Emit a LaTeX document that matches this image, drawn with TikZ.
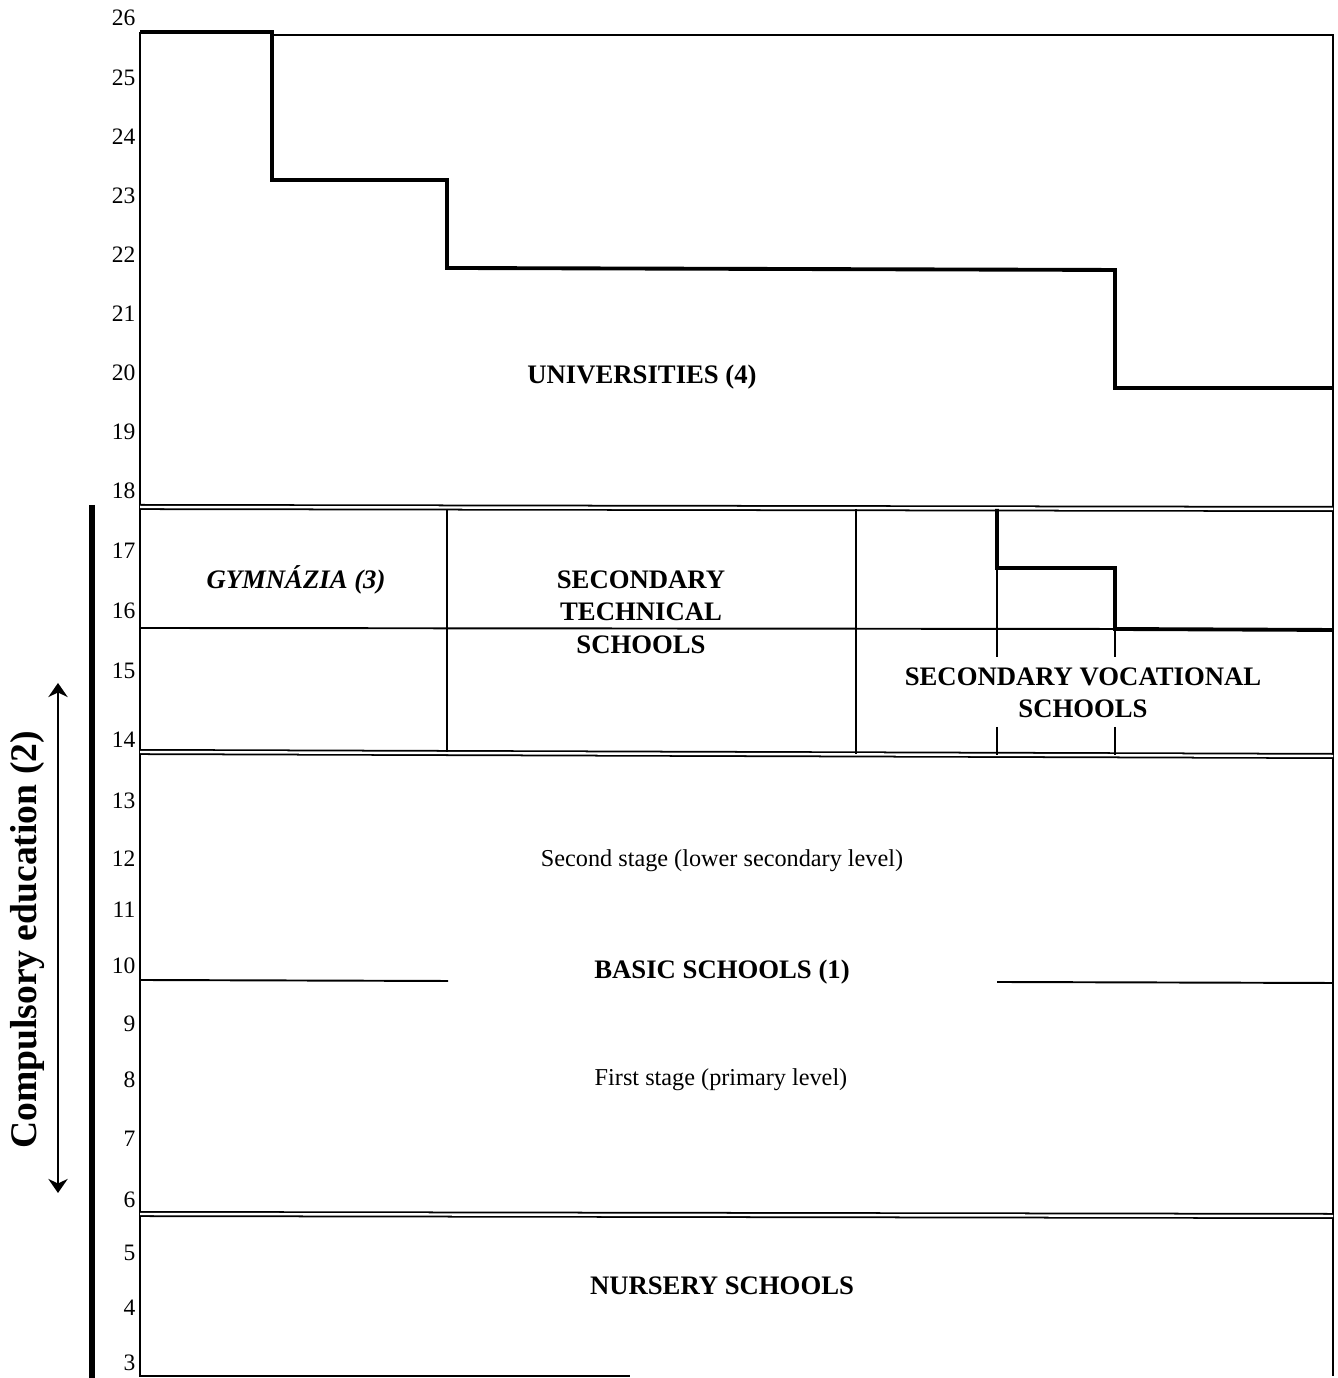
\documentclass[tikz,border=0pt]{standalone}
\usepackage{fontspec}
\setmainfont{Liberation Serif}
\usetikzlibrary{arrows.meta}
\tikzset{
  sch/.style={font=\fontsize{7.6}{9.2}\selectfont\bfseries,align=center,inner sep=0pt},
  stage/.style={font=\fontsize{6.9}{8}\selectfont,inner sep=0pt},
  age/.style={font=\fontsize{6.7}{8}\selectfont,anchor=east,inner sep=0pt},
  bar/.style={line width=1.1pt},
  thin/.style={line width=0.55pt},
  dbl/.style={double,double distance=0.7pt,line width=0.5pt}
}
\begin{document}
\begin{tikzpicture}[>={Stealth[length=4pt,width=5.5pt]}]
\useasboundingbox (0,0) rectangle (13.37,13.78);
% age scale
\foreach \a/\y in {26/13.60,25/13.00,24/12.41,23/11.82,22/11.23,21/10.64,
  20/10.05,19/9.46,18/8.87,17/8.27,16/7.67,15/7.07,14/6.38,13/5.77,
  12/5.19,11/4.68,10/4.12,9/3.54,8/2.98,7/2.39,6/1.78,5/1.25,4/0.70,3/0.15}
  \node[age] (age\a) at (1.36,\y) {\a};
% frame
\draw[thin] (1.40,13.46) -- (1.40,0.02) -- (6.30,0.02);
\draw[thin] (2.72,13.43) -- (13.33,13.43) -- (13.33,0.02);
\draw[bar] (1.40,13.46) -- (2.72,13.46) -- (2.72,11.98) -- (4.47,11.98)
  -- (4.47,11.10) -- (11.15,11.08) -- (11.15,9.90) -- (13.33,9.90);
% level boundaries
\draw[dbl] (1.40,8.71) -- (13.33,8.69);
\draw[dbl] (1.40,6.26) -- (13.33,6.22);
\draw[dbl] (1.40,1.64) -- (13.33,1.62);
% secondary schools
\draw[thin] (1.40,7.50) -- (11.15,7.49);
\draw[thin] (4.47,8.69) -- (4.47,6.26);
\draw[thin] (8.56,8.69) -- (8.56,6.24);
\draw[bar] (9.97,8.69) -- (9.97,8.10) -- (11.15,8.10) -- (11.15,7.49)
  -- (13.33,7.48);
\draw[thin] (9.97,8.10) -- (9.97,7.21) (9.97,6.51) -- (9.97,6.23);
\draw[thin] (11.15,7.49) -- (11.15,7.21) (11.15,6.51) -- (11.15,6.23);
% basic school stages
\draw[thin] (1.40,3.98) -- (4.48,3.97);
\draw[thin] (9.97,3.96) -- (13.33,3.95);
% compulsory education
\draw[line width=1.7pt] (0.92,8.73) -- (0.92,0);
\draw[<->,thin] (0.58,6.95) -- (0.58,1.85);
\node[font=\fontsize{10.7}{12}\selectfont\bfseries,rotate=90,inner sep=0pt]
  (compulsory) at (0.28,4.38) {Compulsory education (2)};
% school types
\node[sch] (univ) at (6.42,10.01) {UNIVERSITIES (4)};
\node[sch,font=\fontsize{7.6}{9.2}\selectfont\bfseries\itshape] (gym) at (2.96,7.98) {GYMNÁZIA (3)};
\node[sch] (tech) at (6.41,7.66) {SECONDARY\\TECHNICAL\\SCHOOLS};
\node[sch] (voc) at (10.83,6.85) {SECONDARY VOCATIONAL\\SCHOOLS};
\node[stage] (second) at (7.22,5.17) {Second stage (lower secondary level)};
\node[sch] (basic) at (7.22,4.06) {BASIC SCHOOLS (1)};
\node[stage] (first) at (7.21,2.98) {First stage (primary level)};
\node[sch] (nursery) at (7.22,0.92) {NURSERY SCHOOLS};
\end{tikzpicture}
\end{document}
